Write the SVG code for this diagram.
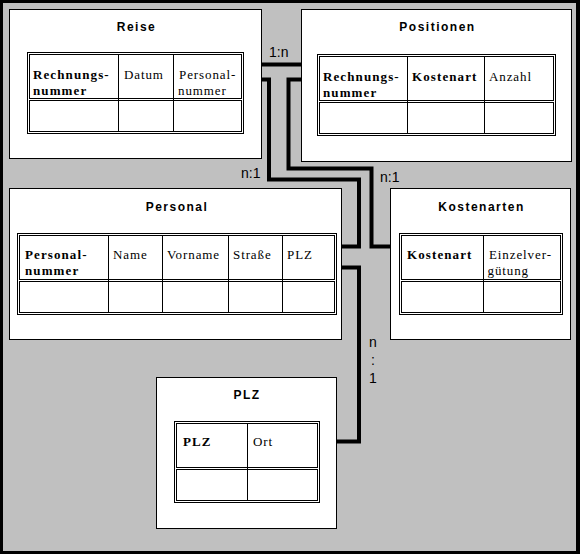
<svg xmlns="http://www.w3.org/2000/svg" width="580" height="554" viewBox="0 0 580 554">
<style>
.frame{fill:#000}
.bg{fill:#c0c0c0}
.box{fill:#fff;stroke:#000;stroke-width:1}
.tb{fill:none;stroke:#000;stroke-width:1}
.title{font-family:"Liberation Sans",Arial,sans-serif;font-size:12px;font-weight:bold;letter-spacing:1.5px;text-anchor:middle;fill:#000}
.h{font-family:"Liberation Serif","Times New Roman",serif;font-size:13px;font-weight:bold;letter-spacing:1.1px;fill:#000}
.c{font-family:"Liberation Serif","Times New Roman",serif;font-size:13px;letter-spacing:0.9px;fill:#000}
.conn{fill:none;stroke:#000;stroke-width:4;stroke-linejoin:miter}
.lbl{font-family:"Liberation Sans",Arial,sans-serif;font-size:14px;fill:#000}
</style>
<rect class="frame" x="0" y="0" width="580" height="554"/>
<rect class="bg" x="3" y="3" width="573" height="548"/>

<g id="connectors">
<path class="conn" d="M262,64.5 H301"/>
<path class="conn" d="M262,79.5 H269 V179.5 H359 V246.5 H342"/>
<path class="conn" d="M301,79.5 H288.5 V168.5 H371.5 V246.5 H390"/>
<path class="conn" d="M342,267.5 H359 V441.5 H337"/>
<text class="lbl" x="269" y="57">1:n</text>
<text class="lbl" x="241" y="178">n:1</text>
<text class="lbl" x="380" y="182">n:1</text>
<text class="lbl" x="373" y="347" text-anchor="middle">n</text>
<text class="lbl" x="373" y="365" text-anchor="middle">:</text>
<text class="lbl" x="373" y="383" text-anchor="middle">1</text>
</g>

<g id="reise">
<rect class="box" x="9.5" y="9.5" width="252" height="149"/>
<text class="title" x="136.5" y="31">Reise</text>
<rect class="tb" x="27.5" y="52.5" width="216" height="81"/>
<rect class="tb" x="29.5" y="54.5" width="212" height="44"/>
<rect class="tb" x="29.5" y="100.5" width="212" height="31"/>
<path class="tb" d="M118.5,54.5 V131.5 M173.5,54.5 V131.5"/>
<text class="h" x="33" y="78.5">Rechnungs-</text>
<text class="h" x="33" y="95">nummer</text>
<text class="c" x="124" y="78.5">Datum</text>
<text class="c" x="179" y="78.5">Personal-</text>
<text class="c" x="178" y="95">nummer</text>
</g>

<g id="positionen">
<rect class="box" x="301.5" y="9.5" width="270" height="152"/>
<text class="title" x="437.5" y="31">Positionen</text>
<rect class="tb" x="317.5" y="54.5" width="238" height="81"/>
<rect class="tb" x="319.5" y="56.5" width="234" height="44"/>
<rect class="tb" x="319.5" y="102.5" width="234" height="31"/>
<path class="tb" d="M407.5,56.5 V133.5 M484.5,56.5 V133.5"/>
<text class="h" x="323" y="80.5">Rechnungs-</text>
<text class="h" x="323" y="97">nummer</text>
<text class="h" x="412" y="80.5">Kostenart</text>
<text class="c" x="489" y="80.5">Anzahl</text>
</g>

<g id="personal">
<rect class="box" x="9.5" y="188.5" width="332" height="151"/>
<text class="title" x="177" y="210.5">Personal</text>
<rect class="tb" x="17.5" y="233.5" width="319" height="81"/>
<rect class="tb" x="19.5" y="235.5" width="315" height="44"/>
<rect class="tb" x="19.5" y="281.5" width="315" height="31"/>
<path class="tb" d="M108.5,235.5 V312.5 M162.5,235.5 V312.5 M228.5,235.5 V312.5 M282.5,235.5 V312.5"/>
<text class="h" x="25" y="258.5">Personal-</text>
<text class="h" x="25" y="275">nummer</text>
<text class="c" x="113" y="258.5">Name</text>
<text class="c" x="167" y="258.5">Vorname</text>
<text class="c" x="233" y="258.5">Straße</text>
<text class="c" x="287" y="258.5">PLZ</text>
</g>

<g id="kostenarten">
<rect class="box" x="390.5" y="188.5" width="180" height="151"/>
<text class="title" x="481.5" y="210.5">Kostenarten</text>
<rect class="tb" x="399.5" y="233.5" width="163" height="81"/>
<rect class="tb" x="401.5" y="235.5" width="159" height="44"/>
<rect class="tb" x="401.5" y="281.5" width="159" height="31"/>
<path class="tb" d="M483.5,235.5 V312.5"/>
<text class="h" x="407" y="258.5">Kostenart</text>
<text class="c" x="489" y="258.5">Einzelver-</text>
<text class="c" x="487.5" y="275">gütung</text>
</g>

<g id="plz">
<rect class="box" x="156.5" y="377.5" width="180" height="151"/>
<text class="title" x="247" y="398.5">PLZ</text>
<rect class="tb" x="174.5" y="421.5" width="145" height="81"/>
<rect class="tb" x="176.5" y="423.5" width="141" height="44"/>
<rect class="tb" x="176.5" y="469.5" width="141" height="31"/>
<path class="tb" d="M247.5,423.5 V500.5"/>
<text class="h" x="183" y="446">PLZ</text>
<text class="c" x="253" y="446">Ort</text>
</g>
</svg>
